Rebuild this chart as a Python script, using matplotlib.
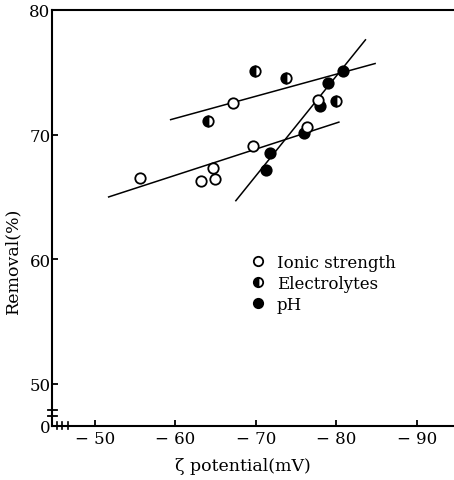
import matplotlib
matplotlib.use("Agg")
import matplotlib.pyplot as plt
import numpy as np

plt.rcParams['font.family'] = ['DejaVu Serif']

# Data
ionic_x = [-55.6, -63.2, -64.6, -64.9, -67.1, -69.6, -76.3, -77.7]
ionic_y = [66.5, 66.3, 67.3, 66.4, 72.5, 69.1, 70.6, 72.8]

electro_x = [-64.0, -69.9, -73.7, -79.9]
electro_y = [71.1, 75.1, 74.5, 72.7]

ph_x = [-71.2, -71.7, -76.0, -77.9, -78.9, -80.8]
ph_y = [67.2, 68.5, 70.1, 72.3, 74.1, 75.1]

# Fitted lines (end points)
line_ionic_x = [-51.7, -80.3]
line_ionic_y = [65.0, 71.0]
line_electro_x = [-59.4, -84.8]
line_electro_y = [71.2, 75.7]
line_ph_x = [-67.5, -83.6]
line_ph_y = [64.7, 77.6]

x_ticks = [-50, -60, -70, -80, -90]
x_ticklabels = ['\u2212 50', '\u2212 60', '\u2212 70', '\u2212 80', '\u2212 90']
y_bottom = 46.63
y_ticks = [y_bottom, 50, 60, 70, 80]
y_ticklabels = ['0', '50', '60', '70', '80']

fig = plt.figure(figsize=(4.54, 4.81), dpi=100)
ax = fig.add_axes([0.1145, 0.1123, 0.8855, 0.865])

lw_fit = 1.1
ax.plot(line_ionic_x, line_ionic_y, color='black', lw=lw_fit, zorder=2)
ax.plot(line_electro_x, line_electro_y, color='black', lw=lw_fit, zorder=2)
ax.plot(line_ph_x, line_ph_y, color='black', lw=lw_fit, zorder=2)

ms = 7.5
mew = 1.3
ax.plot(ph_x, ph_y, 'o', ms=ms, mfc='black', mec='black', mew=mew,
        ls='none', zorder=3, label='pH')
ax.plot(ionic_x, ionic_y, 'o', ms=ms, mfc='white', mec='black', mew=mew,
        ls='none', zorder=4, label='Ionic strength')
ax.plot(electro_x, electro_y, 'o', ms=ms, mfc='black', mfcalt='white',
        fillstyle='left', mec='black', mew=mew, ls='none', zorder=4,
        label='Electrolytes')

ax.set_xlim(-44.66, -94.6)
ax.set_ylim(y_bottom, 80)
ax.set_xticks(x_ticks)
ax.set_xticklabels(x_ticklabels)
ax.set_yticks(y_ticks)
ax.set_yticklabels(y_ticklabels)
ax.tick_params(direction='in', length=4, width=1.3, labelsize=12, pad=3)
ax.tick_params(axis='y', pad=1)

for s in ['left', 'bottom', 'top']:
    ax.spines[s].set_linewidth(1.5)
ax.spines['right'].set_visible(False)

ax.set_xlabel('\u03b6 potential(mV)', fontsize=12.5)
ax.set_ylabel('Removal(%)', fontsize=12.5)
ax.xaxis.set_label_coords(0.475, -0.075)
ax.yaxis.set_label_coords(-0.075, 0.40)

# Legend
handles, labels = ax.get_legend_handles_labels()
order = [1, 2, 0]
leg = ax.legend([handles[i] for i in order], [labels[i] for i in order],
                loc='upper left', bbox_to_anchor=(0.48, 0.43), frameon=False,
                fontsize=12, handlelength=0.8, handletextpad=0.7,
                labelspacing=0.25, borderaxespad=0, markerscale=0.9)

# Axis break marks
tr = ax.transAxes
for yy in [0.024, 0.038]:
    ax.plot([-0.01, 0.012], [yy, yy], color='black', lw=1.3,
            transform=tr, clip_on=False)
for xx in [0.012, 0.025, 0.040]:
    ax.plot([xx, xx], [-0.008, 0.010], color='black', lw=1.2,
            transform=tr, clip_on=False)

fig.savefig('out.png', dpi=100)
